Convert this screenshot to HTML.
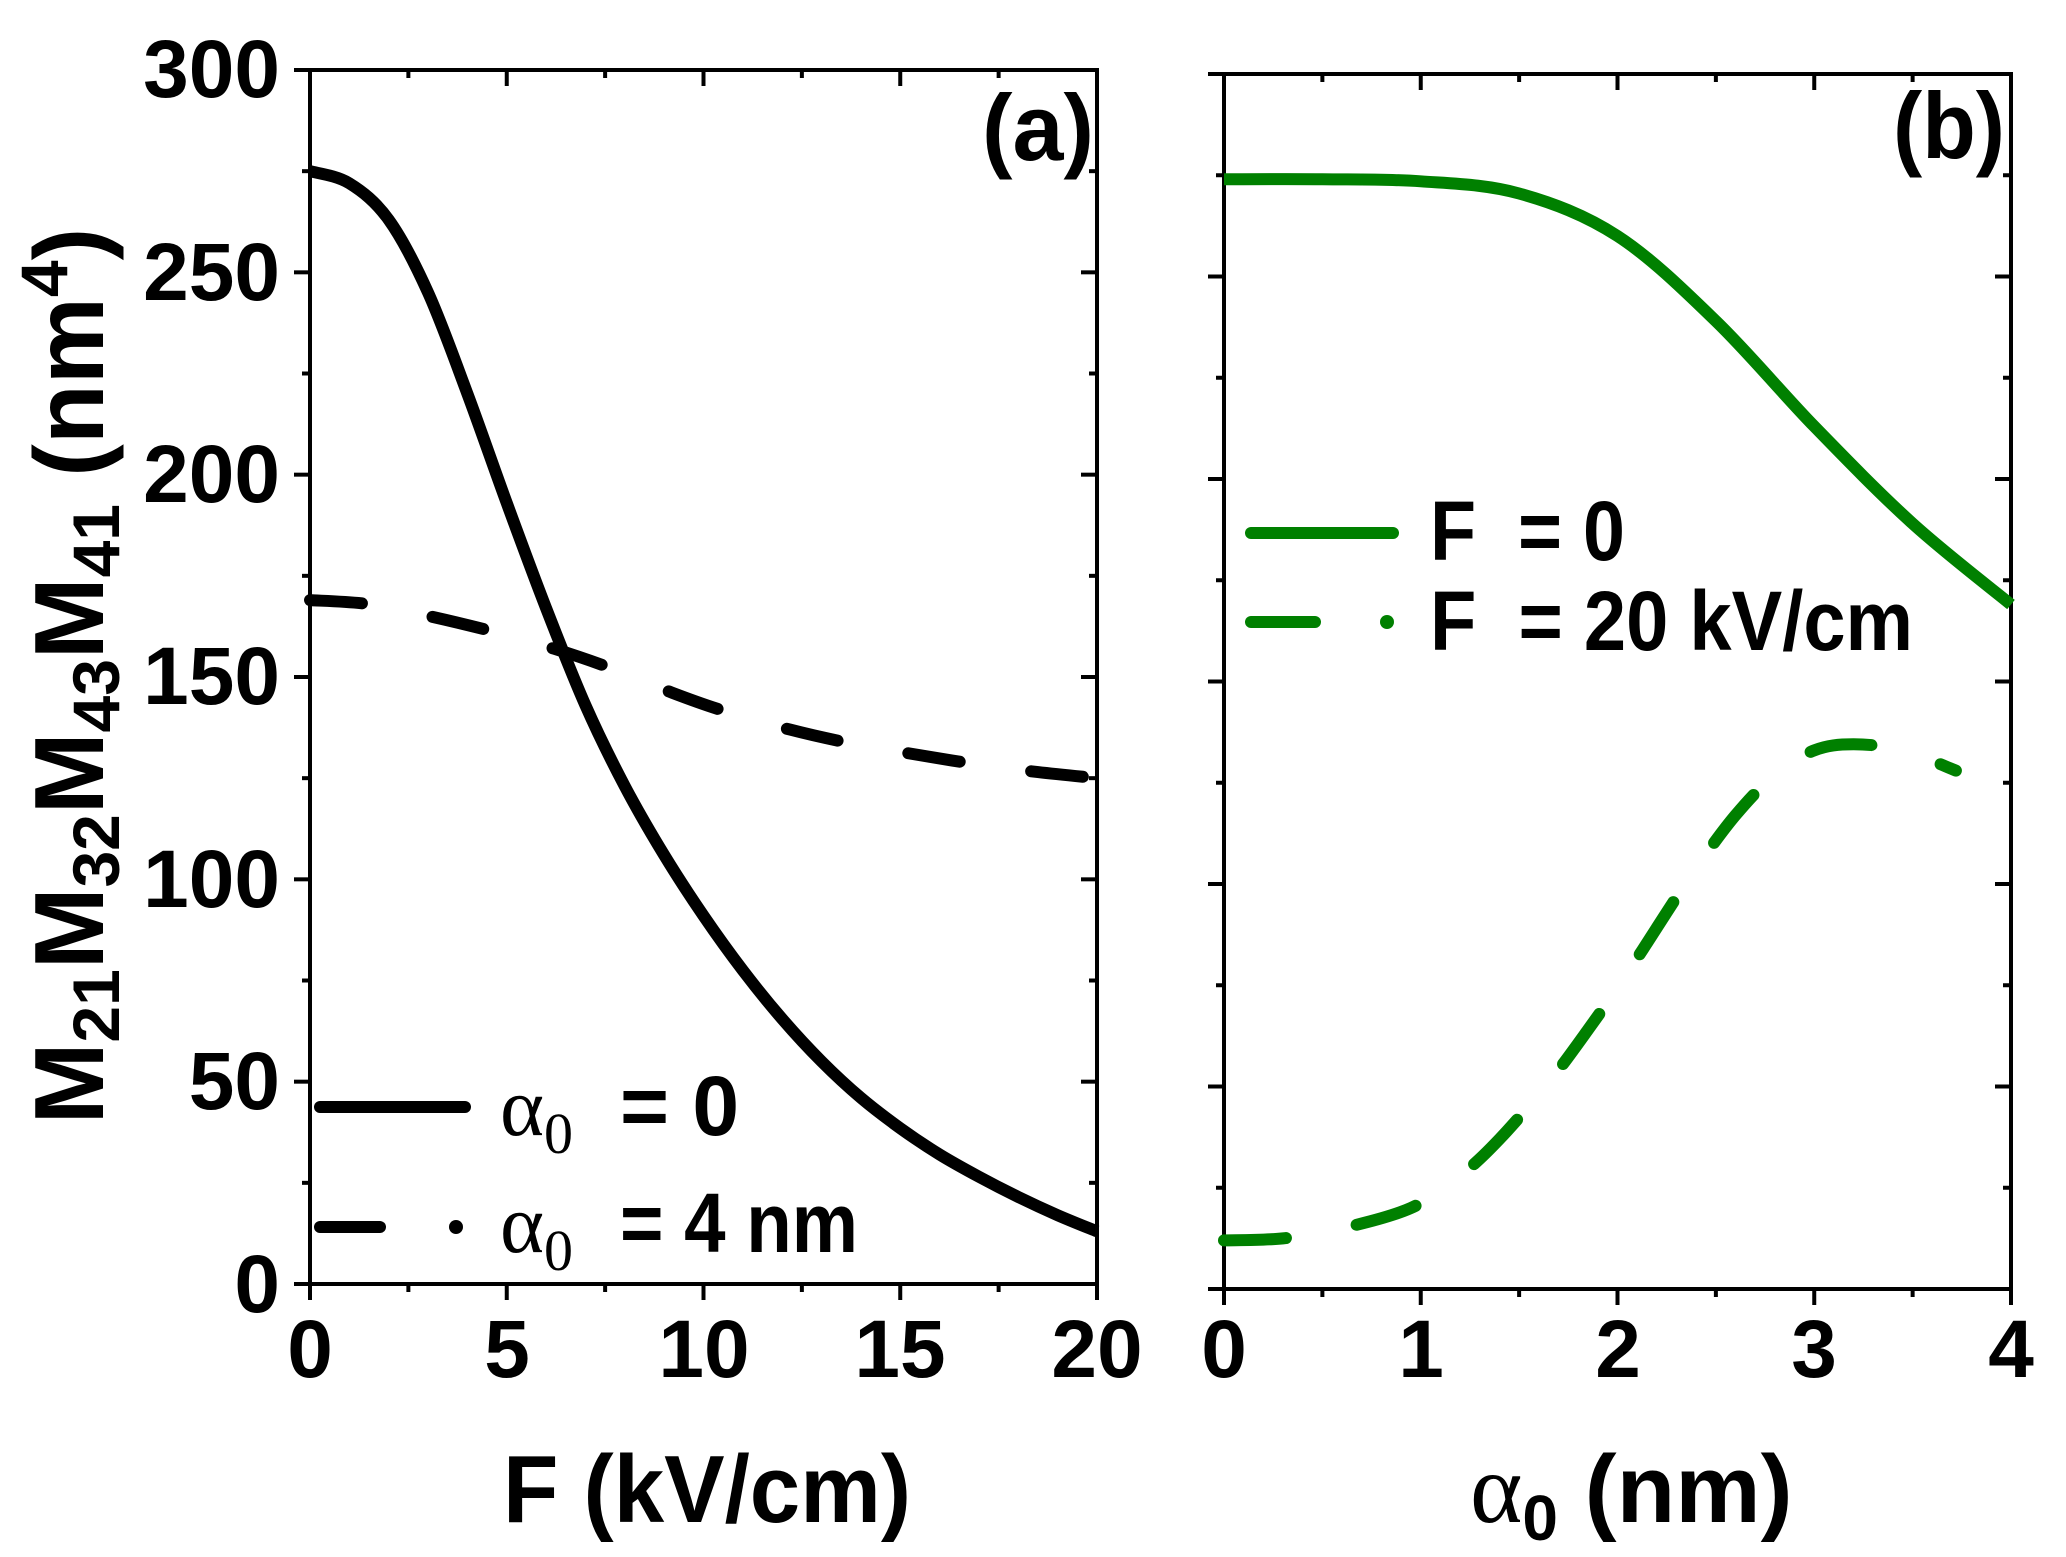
<!DOCTYPE html>
<html><head><meta charset="utf-8"><style>
html,body{margin:0;padding:0;background:#fff;}
svg{display:block;}
text{font-family:"Liberation Sans",Arial,sans-serif;font-weight:bold;fill:#000;}
.ser{font-family:"Liberation Serif","DejaVu Serif",serif;font-weight:normal;}
</style></head><body>
<svg id="s" width="2066" height="1557" viewBox="0 0 2066 1557" xmlns="http://www.w3.org/2000/svg">
<g id="g"></g>
<g font-size="82" text-anchor="end">
<text x="280" y="97">300</text>
<text x="280" y="300">250</text>
<text x="280" y="502">200</text>
<text x="280" y="704">150</text>
<text x="280" y="907">100</text>
<text x="280" y="1109">50</text>
<text x="280" y="1312">0</text>
</g>
<g font-size="82" text-anchor="middle">
<text x="310" y="1377">0</text>
<text x="507" y="1377">5</text>
<text x="704" y="1377">10</text>
<text x="900" y="1377">15</text>
<text x="1097" y="1377">20</text>
<text x="1224" y="1377">0</text>
<text x="1421" y="1377">1</text>
<text x="1618" y="1377">2</text>
<text x="1814" y="1377">3</text>
<text x="2011" y="1377">4</text>
</g>
<text x="982" y="160" font-size="94" textLength="112" lengthAdjust="spacingAndGlyphs">(a)</text>
<text x="1893" y="158" font-size="94" textLength="112" lengthAdjust="spacingAndGlyphs">(b)</text>
<text x="503" y="1522" font-size="96" textLength="408" lengthAdjust="spacingAndGlyphs">F (kV/cm)</text>
<text x="1470" y="1522" font-size="96"><tspan class="ser" font-size="100">α</tspan><tspan font-size="64" dy="18">0</tspan><tspan dy="-18"> (nm)</tspan></text>
<text transform="translate(103,676) rotate(-90)" text-anchor="middle" font-size="98">M<tspan font-size="66" dy="16">21</tspan><tspan dy="-16">M</tspan><tspan font-size="66" dy="16">32</tspan><tspan dy="-16">M</tspan><tspan font-size="66" dy="16">43</tspan><tspan dy="-16">M</tspan><tspan font-size="66" dy="16">41</tspan><tspan dy="-16"> (nm</tspan><tspan font-size="66" dy="-36">4</tspan><tspan dy="36">)</tspan></text>
<line x1="320" y1="1107" x2="465" y2="1107" stroke="#000" stroke-width="12" stroke-linecap="round"/>
<line x1="320" y1="1227" x2="380" y2="1227" stroke="#000" stroke-width="12" stroke-linecap="round"/>
<circle cx="456" cy="1227" r="7"/>
<text x="500" y="1135" font-size="84"><tspan class="ser">α</tspan><tspan class="ser" font-size="58" dy="18">0</tspan><tspan dy="-18" x="620">= 0</tspan></text>
<text x="500" y="1252" font-size="84"><tspan class="ser">α</tspan><tspan class="ser" font-size="58" dy="18">0</tspan><tspan dy="-18" x="620" textLength="238" lengthAdjust="spacingAndGlyphs">= 4 nm</tspan></text>
<line x1="1251" y1="533" x2="1393" y2="533" stroke="#008000" stroke-width="12" stroke-linecap="round"/>
<line x1="1251" y1="622" x2="1315" y2="622" stroke="#008000" stroke-width="12" stroke-linecap="round"/>
<circle cx="1387" cy="622" r="7" fill="#008000"/>
<text x="1430" y="560" font-size="84" xml:space="preserve" textLength="195" lengthAdjust="spacingAndGlyphs">F  = 0</text>
<text x="1430" y="650" font-size="84" xml:space="preserve" textLength="483" lengthAdjust="spacingAndGlyphs">F  = 20 kV/cm</text>
</svg>
<script>
var g=document.getElementById('g'),NS='http://www.w3.org/2000/svg';
function el(t,a){var e=document.createElementNS(NS,t);for(var k in a)e.setAttribute(k,a[k]);g.appendChild(e);return e;}
function panel(x0,x1,y0,y1,nx){
 el('rect',{x:x0,y:y0,width:x1-x0,height:y1-y0,fill:'none',stroke:'#000','stroke-width':4});
 var i,x,y,L;
 for(i=0;i<=nx*2;i++){x=x0+(x1-x0)*i/(nx*2);L=i%2?8:16;
  el('line',{x1:x,y1:y1,x2:x,y2:y1+L,stroke:'#000','stroke-width':4});
  el('line',{x1:x,y1:y0,x2:x,y2:y0+L,stroke:'#000','stroke-width':4});}
 for(i=0;i<=12;i++){y=y1-(y1-y0)*i/12;L=i%2?8:16;
  el('line',{x1:x0-L,y1:y,x2:x0,y2:y,stroke:'#000','stroke-width':4});
  el('line',{x1:x1-L,y1:y,x2:x1,y2:y,stroke:'#000','stroke-width':4});}
}
panel(310,1097,70,1284,4);
panel(1224,2011,74,1289,4);
function path(pts,sx,sy){
 var p=pts.map(function(q){return [sx(q[0]),sy(q[1])];});
 var d='M'+p[0][0]+','+p[0][1];
 for(var i=0;i<p.length-1;i++){var p0=p[Math.max(0,i-1)],p1=p[i],p2=p[i+1],p3=p[Math.min(p.length-1,i+2)];
  d+=' C'+(p1[0]+(p2[0]-p0[0])/6)+','+(p1[1]+(p2[1]-p0[1])/6)+' '+(p2[0]-(p3[0]-p1[0])/6)+','+(p2[1]-(p3[1]-p1[1])/6)+' '+p2[0]+','+p2[1];}
 return d;}
var ax=function(v){return 310+v*787/20},ay=function(v){return 1284-v*1214/300};
var bx=function(v){return 1224+v*787/4},by=function(v){return 1289-v*1215/300};
var s1=[[0,275],[1,272],[2,263],[3,245],[4,220],[5,193],[6,167],[7,143],[8,123],[9,106],[10,91],[11,77.5],[12,65.5],[13,55],[14,46],[15,38.5],[16,32],[17,26.5],[18,21.5],[19,17],[20,13]];
el('path',{d:path(s1,ax,ay),fill:'none',stroke:'#000','stroke-width':12});
var d1=[[0,169],[1.5,168],[3.05,165],[4.75,161],[6.2,157],[7.56,152.5],[9.1,146.5],[10.4,142],[12.2,137],[13.8,133.5],[15.3,131],[16.9,128.5],[18.5,126.5],[20,125]];
el('path',{d:path(d1,ax,ay),fill:'none',stroke:'#000','stroke-width':12,'stroke-dasharray':'52 72','stroke-linecap':'round'});
var s2=[[0,274],[0.5,274],[1,273.5],[1.5,270.5],[2,260],[2.5,239],[3,213],[3.5,189],[4,169]];
el('path',{d:path(s2,bx,by),fill:'none',stroke:'#008000','stroke-width':12});
var d2=[[0,12],[0.3,12.5],[0.6,15],[0.95,20],[1.2,28],[1.4,37],[1.65,51],[1.85,64],[2.05,78],[2.25,93],[2.4,104],[2.6,117],[2.8,127],[3.0,133],[3.2,134.5],[3.45,133],[3.72,128]];
el('path',{d:path(d2,bx,by),fill:'none',stroke:'#008000','stroke-width':12,'stroke-dasharray':'62 72','stroke-linecap':'round'});
</script>
</body></html>
